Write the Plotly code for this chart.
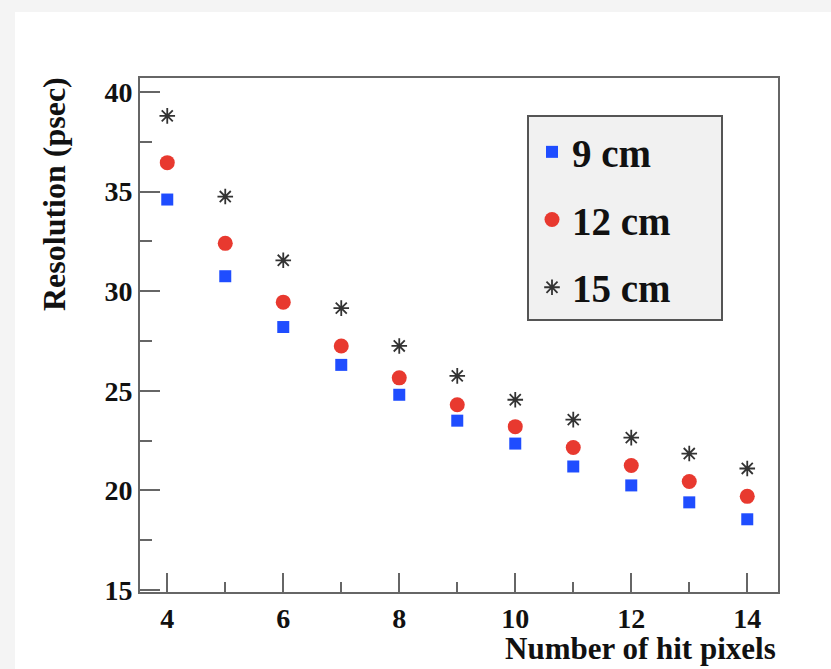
import plotly.graph_objects as go

hits = [4, 5, 6, 7, 8, 9, 10, 11, 12, 13, 14]
res_9cm = [34.6, 30.75, 28.2, 26.3, 24.8, 23.5, 22.35, 21.2, 20.25, 19.4, 18.55]
res_12cm = [36.45, 32.4, 29.45, 27.25, 25.65, 24.3, 23.2, 22.15, 21.25, 20.45, 19.7]
res_15cm = [38.8, 34.75, 31.55, 29.15, 27.25, 25.75, 24.55, 23.55, 22.65, 21.85, 21.1]
names = ["9 cm", "12 cm", "15 cm"]
x_ticks = [4, 6, 8, 10, 12, 14]
y_ticks = [15, 20, 25, 30, 35, 40]

SERIF = "Liberation Serif, Times New Roman, serif"

fig = go.Figure()
fig.add_trace(go.Scatter(x=hits, y=res_9cm, mode="markers", name=names[0], legendgroup="a",
                         marker=dict(symbol="square", size=12, color="#1f4dff")))
fig.add_trace(go.Scatter(x=hits, y=res_12cm, mode="markers", name=names[1], legendgroup="b",
                         marker=dict(symbol="circle", size=15, color="#e8392f")))
fig.add_trace(go.Scatter(x=hits, y=res_15cm, mode="markers", name=names[2], legendgroup="c",
                         marker=dict(symbol="asterisk-open", size=13, color="#333333",
                                     line=dict(color="#333333", width=1.8))))

W, H = 831, 669
L, R, T, B = 140, 53, 78, 77
pw, ph = W - L - R, H - T - B

def px2x(px):
    return (px - L) / pw

def px2y(py):
    return 1 - (py - T) / ph

shapes = [
    dict(type="rect", xref="paper", yref="paper", x0=px2x(15), x1=px2x(W + 5),
         y0=px2y(H + 5), y1=px2y(12), fillcolor="white", line=dict(width=0), layer="below"),
    dict(type="rect", xref="paper", yref="paper", x0=px2x(528), x1=px2x(722),
         y0=px2y(320), y1=px2y(116), fillcolor="#f1f1f1",
         line=dict(color="#555555", width=2), layer="above"),
]

axis_common = dict(showgrid=False, zeroline=False, showline=True, mirror=True,
                   linecolor="#666666", linewidth=2, ticks="inside", tickcolor="#666666",
                   tickwidth=2,
                   tickfont=dict(family=SERIF, size=28, color="#111111", weight="bold"))

fig.update_layout(
    width=W, height=H,
    margin=dict(l=L, r=R, t=T, b=B),
    paper_bgcolor="#f4f4f4",
    plot_bgcolor="white",
    shapes=shapes,
    showlegend=True,
    legend=dict(x=px2x(532), y=px2y(120), xanchor="left", yanchor="top",
                bgcolor="rgba(0,0,0,0)", borderwidth=0, tracegroupgap=14,
                font=dict(family=SERIF, size=39, color="#111111", weight="bold"),
                itemsizing="trace", traceorder="grouped"),
    xaxis=dict(range=[3.53, 14.53], tickvals=x_ticks, ticktext=[str(v) for v in x_ticks],
               ticklen=19, minor=dict(dtick=1, tick0=0, ticklen=10, ticks="inside",
                                      tickcolor="#666666", tickwidth=2),
               **axis_common),
    yaxis=dict(range=[14.9, 40.7], tickvals=y_ticks, ticktext=[str(v) for v in y_ticks],
               ticklen=20, minor=dict(dtick=2.5, tick0=0, ticklen=12, ticks="inside",
                                      tickcolor="#666666", tickwidth=2),
               **axis_common),
    annotations=[
        dict(text="Number of hit pixels", xref="paper", yref="paper", x=1.0, y=px2y(648),
             xanchor="right", yanchor="middle", showarrow=False,
             font=dict(family=SERIF, size=31, color="#111111", weight="bold")),
        dict(text="Resolution (psec)", xref="paper", yref="paper", x=px2x(54), y=px2y(75),
             xanchor="center", yanchor="top", textangle=-90, showarrow=False,
             font=dict(family=SERIF, size=32, color="#111111", weight="bold")),
    ],
)

fig.write_html("out.html")
